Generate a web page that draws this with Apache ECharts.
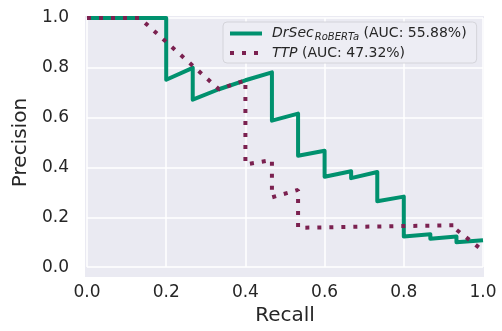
<!DOCTYPE html>
<html>
<head>
<meta charset="utf-8">
<script src="https://cdn.jsdelivr.net/npm/echarts@6/dist/echarts.min.js"></script>
<style>
  html, body { margin: 0; padding: 0; background: #ffffff; }
  #chart { width: 502px; height: 331px; }
</style>
</head>
<body>
<div id="chart"></div>
<script>
// data
const seriesNames = ['DrSec_RoBERTa', 'TTP']
const aucLabels = ['(AUC: 55.88%)', '(AUC: 47.32%)']

const drsecRecall = [0, 0.2, 0.2, 0.267, 0.267, 0.333, 0.4, 0.467, 0.467, 0.533, 0.533, 0.6, 0.6, 0.667, 0.667, 0.733, 0.733, 0.8, 0.8, 0.867, 0.867, 0.933, 0.933, 1.0]
const drsecPrecision = [1, 1, 0.752, 0.8, 0.672, 0.714, 0.75, 0.782, 0.588, 0.616, 0.447, 0.467, 0.363, 0.385, 0.357, 0.382, 0.264, 0.283, 0.123, 0.132, 0.114, 0.123, 0.1, 0.108]

const ttpRecall = [0, 0.133, 0.333, 0.4, 0.4, 0.467, 0.467, 0.533, 0.533, 0.933, 0.933, 1.0]
const ttpPrecision = [1, 1, 0.714, 0.75, 0.412, 0.43, 0.28, 0.31, 0.158, 0.168, 0.15, 0.066]

const zip = (xs, ys) => xs.map((x, i) => [x, ys[i]])

const font = 'DejaVu Sans'
const textColor = '#262626'

const myChart = echarts.init(document.getElementById('chart'), null, {renderer: 'canvas'})

const option = {
  animation: false,
  textStyle: {fontFamily: font},
  grid: {left: 87, right: 19, top: 18, bottom: 56},
  // plot background, a bit wider than the data range like matplotlib margins
  graphic: [
    {
      type: 'rect',
      z: -10,
      silent: true,
      shape: {x: 85, y: 16, width: 399, height: 261},
      style: {fill: '#EAEAF2'}
    }
  ],
  legend: {
    orient: 'vertical',
    left: 223,
    top: 22,
    padding: [3, 10, 3, 5],
    itemGap: 4,
    itemWidth: 32,
    itemHeight: 14,
    backgroundColor: '#EDEDF4',
    borderColor: '#d4d4da',
    borderWidth: 1,
    borderRadius: 4,
    itemStyle: {opacity: 0},
    lineStyle: {width: 4, cap: 'butt'},
    data: seriesNames,
    formatter: name => {
      if (name === seriesNames[0]) {
        return '{i|DrSec}{s|RoBERTa}{n| ' + aucLabels[0] + '}'
      }
      return '{i|TTP}{n| ' + aucLabels[1] + '}'
    },
    textStyle: {
      color: textColor,
      fontFamily: font,
      fontSize: 14,
      rich: {
        i: {fontFamily: font, fontSize: 14, fontStyle: 'italic', color: textColor, padding: [0, 0, 0, 5], lineHeight: 18},
        s: {fontFamily: font, fontSize: 10, fontStyle: 'italic', color: textColor, padding: [7, 0, 0, 1], lineHeight: 11},
        n: {fontFamily: font, fontSize: 14, color: textColor, lineHeight: 18}
      }
    }
  },
  xAxis: {
    type: 'value',
    min: 0,
    max: 1,
    interval: 0.2,
    name: 'Recall',
    nameLocation: 'middle',
    nameGap: 36,
    nameTextStyle: {fontSize: 20, color: textColor, fontFamily: font},
    axisLine: {show: false},
    axisTick: {show: false},
    axisLabel: {fontSize: 17, color: textColor, margin: 17, formatter: v => v.toFixed(1)},
    splitLine: {show: true, lineStyle: {color: '#ffffff', width: 1.5}}
  },
  yAxis: {
    type: 'value',
    min: 0,
    max: 1,
    interval: 0.2,
    name: 'Precision',
    nameLocation: 'middle',
    nameGap: 54,
    nameTextStyle: {fontSize: 20, color: textColor, fontFamily: font},
    axisLine: {show: false},
    axisTick: {show: false},
    axisLabel: {fontSize: 17, color: textColor, margin: 18, padding: [3, 0, 0, 0], formatter: v => v.toFixed(1)},
    splitLine: {show: true, lineStyle: {color: '#ffffff', width: 1.5}}
  },
  series: [
    {
      name: seriesNames[0],
      type: 'line',
      data: zip(drsecRecall, drsecPrecision),
      symbol: 'none',
      clip: false,
      color: '#00916E',
      lineStyle: {color: '#00916E', width: 4, join: 'round'}
    },
    {
      name: seriesNames[1],
      type: 'line',
      data: zip(ttpRecall, ttpPrecision),
      symbol: 'none',
      clip: false,
      color: '#7B2150',
      lineStyle: {color: '#7B2150', width: 4, type: [4, 8], cap: 'butt'}
    }
  ]
}

myChart.setOption(option)
</script>
</body>
</html>
